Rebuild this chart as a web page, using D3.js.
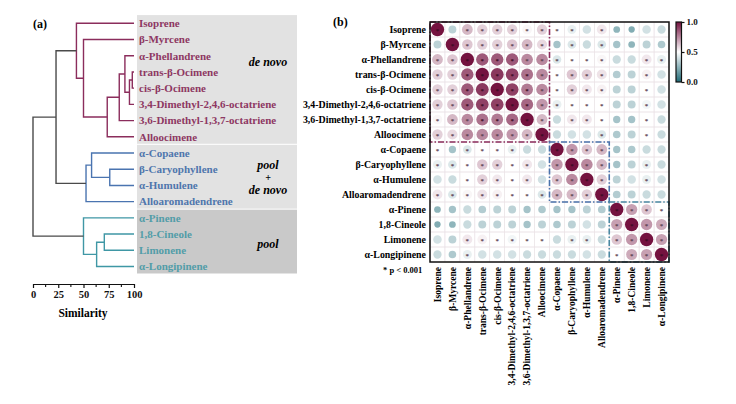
<!DOCTYPE html>
<html>
<head>
<meta charset="utf-8">
<script src="https://cdn.jsdelivr.net/npm/d3@7"></script>
<style>
  body { margin: 0; background: #fff; }
  text { font-family: "Times New Roman", "Liberation Serif", serif; font-weight: bold; }
</style>
</head>
<body>
<svg id="chart" width="736" height="404"></svg>
<script>
// compounds, same order in dendrogram and matrix
const compounds = ["Isoprene", "β-Myrcene", "α-Phellandrene", "trans-β-Ocimene", "cis-β-Ocimene",
  "3,4-Dimethyl-2,4,6-octatriene", "3,6-Dimethyl-1,3,7-octatriene", "Alloocimene",
  "α-Copaene", "β-Caryophyllene", "α-Humulene", "Alloaromadendrene",
  "α-Pinene", "1,8-Cineole", "Limonene", "α-Longipinene"];

// clusters of the dendrogram: [id, left, right, similarity]
const merges = [
  ["m1", "trans-β-Ocimene", "cis-β-Ocimene", 98.3],
  ["m2", "m1", "3,4-Dimethyl-2,4,6-octatriene", 95.5],
  ["m3", "α-Phellandrene", "m2", 91],
  ["m4", "m3", "3,6-Dimethyl-1,3,7-octatriene", 85.4],
  ["m5", "m4", "Alloocimene", 73.5],
  ["m6", "β-Myrcene", "m5", 50],
  ["m7", "Isoprene", "m6", 43],
  ["m8", "β-Caryophyllene", "α-Humulene", 76],
  ["m9", "α-Copaene", "m8", 58],
  ["m10", "m9", "Alloaromadendrene", 52.5],
  ["m11", "1,8-Cineole", "Limonene", 70.6],
  ["m12", "m11", "α-Longipinene", 63],
  ["m13", "α-Pinene", "m12", 50],
  ["m14", "m7", "m10", 22.8],
  ["m15", "m14", "m13", 0]
];

const groupOfLeaf = [0, 0, 0, 0, 0, 0, 0, 0, 1, 1, 1, 1, 2, 2, 2, 2];
const groupLabels = [["de novo"], ["pool", "+", "de novo"], ["pool"]];
const scaleTicks = [0, 25, 50, 75, 100];
const barTicks = [0, 0.5, 1];

// correlation matrix (rows = columns = compounds)
const corr = [
  [1.00, 0.35, 0.65, 0.60, 0.60, 0.60, 0.52, 0.60, 0.50, 0.45, 0.40, 0.55, 0.25, 0.22, 0.40, 0.38],
  [0.35, 1.00, 0.62, 0.60, 0.60, 0.62, 0.65, 0.58, 0.30, 0.42, 0.38, 0.42, 0.30, 0.25, 0.35, 0.32],
  [0.65, 0.62, 1.00, 0.85, 0.85, 0.85, 0.75, 0.75, 0.42, 0.50, 0.50, 0.52, 0.38, 0.38, 0.55, 0.45],
  [0.60, 0.60, 0.85, 1.00, 0.92, 0.90, 0.80, 0.75, 0.50, 0.62, 0.60, 0.56, 0.33, 0.35, 0.53, 0.40],
  [0.60, 0.60, 0.85, 0.92, 1.00, 0.90, 0.78, 0.75, 0.50, 0.60, 0.55, 0.53, 0.35, 0.35, 0.50, 0.40],
  [0.60, 0.62, 0.85, 0.90, 0.90, 1.00, 0.82, 0.72, 0.45, 0.50, 0.50, 0.50, 0.35, 0.35, 0.47, 0.40],
  [0.52, 0.65, 0.75, 0.80, 0.78, 0.82, 1.00, 0.65, 0.38, 0.55, 0.55, 0.50, 0.30, 0.30, 0.50, 0.38],
  [0.60, 0.58, 0.75, 0.75, 0.75, 0.72, 0.65, 1.00, 0.38, 0.40, 0.40, 0.42, 0.32, 0.35, 0.50, 0.38],
  [0.50, 0.30, 0.42, 0.50, 0.50, 0.45, 0.38, 0.38, 1.00, 0.72, 0.62, 0.65, 0.30, 0.32, 0.38, 0.38],
  [0.45, 0.42, 0.50, 0.62, 0.60, 0.50, 0.55, 0.40, 0.72, 1.00, 0.75, 0.65, 0.30, 0.35, 0.45, 0.38],
  [0.40, 0.38, 0.50, 0.60, 0.55, 0.50, 0.55, 0.40, 0.62, 0.75, 1.00, 0.60, 0.35, 0.40, 0.45, 0.40],
  [0.55, 0.42, 0.52, 0.56, 0.53, 0.50, 0.50, 0.42, 0.65, 0.65, 0.60, 1.00, 0.33, 0.35, 0.38, 0.38],
  [0.25, 0.30, 0.38, 0.33, 0.35, 0.35, 0.30, 0.32, 0.30, 0.30, 0.35, 0.33, 1.00, 0.70, 0.62, 0.50],
  [0.22, 0.25, 0.38, 0.35, 0.35, 0.35, 0.30, 0.35, 0.32, 0.35, 0.40, 0.35, 0.70, 1.00, 0.72, 0.68],
  [0.40, 0.35, 0.55, 0.53, 0.50, 0.47, 0.50, 0.50, 0.38, 0.45, 0.45, 0.38, 0.62, 0.72, 1.00, 0.70],
  [0.38, 0.32, 0.45, 0.40, 0.40, 0.40, 0.38, 0.38, 0.38, 0.38, 0.40, 0.38, 0.50, 0.68, 0.70, 1.00]
];
const sigMin = 0.4; // cells above this carry the p < 0.001 star

const lineColors = ["#8b2d5c", "#4a74b0", "#3f97a5"];
const labelColors = ["#8e3863", "#4f76ad", "#529da8"];
const boxColors = ["#e2e2e2", "#e2e2e2", "#c9c9c9"];
const boxLines = ["#8b2d5c", "#4a72ab", "#4a88a2"];

const svg = d3.select('#chart');

// ---------- (a) dendrogram ----------
svg.append('text').attr('x', 33).attr('y', 28).style('font-size', '12px').text('(a)');

const x = d3.scaleLinear().domain([0, 100]).range([33, 134]);
const yLeaf = d3.scalePoint().domain(compounds).range([23.3, 266.5]);

// grey group boxes + group names
const nameOffsets = [[0], [-10.2, 1.8, 15.3], [4]];
const nameSizes = [[12], [12, 10, 12], [12]];
groupLabels.forEach((lab, g) => {
    const ii = d3.range(compounds.length).filter(i => groupOfLeaf[i] === g);
    const y0 = yLeaf(compounds[ii[0]]) - 8.2;
    const y1 = yLeaf(compounds[ii[ii.length - 1]]) + 7;
    svg.append('rect')
        .attr('x', 137).attr('y', y0)
        .attr('width', 160).attr('height', y1 - y0)
        .attr('fill', boxColors[g]);
    const cy = g === 0 ? y0 + 51 : (y0 + y1) / 2 + 2;
    lab.forEach((s, k) => {
        svg.append('text')
            .attr('x', 268).attr('text-anchor', 'middle')
            .attr('y', cy + nameOffsets[g][k])
            .style('font-size', nameSizes[g][k] + 'px')
            .style('font-style', 'italic')
            .text(s);
    });
});

const nodes = new Map();
compounds.forEach((name, i) => nodes.set(name, { h: 100, y: yLeaf(name), groups: new Set([groupOfLeaf[i]]) }));
merges.forEach(([id, a, b, h]) => {
    const A = nodes.get(a), B = nodes.get(b);
    nodes.set(id, { a: A, b: B, h, y: (A.y + B.y) / 2, groups: new Set([...A.groups, ...B.groups]) });
});

merges.forEach(([id]) => {
    const n = nodes.get(id);
    const color = n.groups.size === 1 ? lineColors[[...n.groups][0]] : '#4a4a4a';
    svg.append('path')
        .attr('d', `M${x(n.a.h)},${n.a.y}H${x(n.h)}V${n.b.y}H${x(n.b.h)}`)
        .attr('fill', 'none')
        .attr('stroke', color)
        .attr('stroke-width', 1.4);
});

svg.selectAll('.leaf')
    .data(compounds)
    .enter()
    .append('text')
    .attr('x', 139)
    .attr('y', d => yLeaf(d))
    .attr('dy', '0.35em')
    .style('font-size', '11px')
    .attr('fill', (d, i) => labelColors[groupOfLeaf[i]])
    .text(d => d);

// similarity scale
const scaleAxis = svg.append('g')
    .attr('transform', 'translate(0,284)')
    .call(d3.axisBottom(x).tickValues(scaleTicks).tickSize(4).tickSizeOuter(0).tickPadding(3));
scaleAxis.selectAll('text').style('font-size', '10.5px').attr('fill', '#111');
scaleAxis.selectAll('line, path').attr('stroke', '#111').attr('stroke-width', 1.2);
scaleAxis.selectAll('.minor')
    .data(d3.range(12.5, 100, 25))
    .enter()
    .append('line')
    .attr('x1', d => x(d)).attr('x2', d => x(d))
    .attr('y1', 0).attr('y2', 3)
    .attr('stroke', '#111').attr('stroke-width', 1.1);
svg.append('text').attr('x', 83).attr('y', 317).attr('text-anchor', 'middle')
    .style('font-size', '11.5px').text('Similarity');

// ---------- (b) correlation matrix ----------
svg.append('text').attr('x', 333).attr('y', 26).style('font-size', '12px').text('(b)');

const idx = d3.range(compounds.length);
const xb = d3.scaleBand().domain(idx).range([430, 669]);
const yb = d3.scaleBand().domain(idx).range([22, 262]);
const color = d3.scaleLinear().domain([0, 0.5, 1]).range(['#1f6a77', '#ffffff', '#74123f']);
const radius = d3.scaleSqrt().domain([0, 1]).range([0, 6.7]);

const cells = [];
corr.forEach((row, i) => row.forEach((v, j) => cells.push({ i, j, v })));

svg.selectAll('.cell')
    .data(cells)
    .enter()
    .append('rect')
    .attr('x', d => xb(d.j)).attr('y', d => yb(d.i))
    .attr('width', xb.bandwidth()).attr('height', yb.bandwidth())
    .attr('fill', 'none').attr('stroke', '#ece4e8').attr('stroke-width', 0.6);

svg.selectAll('.dot')
    .data(cells)
    .enter()
    .append('circle')
    .attr('cx', d => xb(d.j) + xb.bandwidth() / 2)
    .attr('cy', d => yb(d.i) + yb.bandwidth() / 2)
    .attr('r', d => radius(d.v))
    .attr('fill', d => color(d.v));

svg.selectAll('.star')
    .data(cells.filter(d => d.v > sigMin))
    .enter()
    .append('text')
    .attr('x', d => xb(d.j) + xb.bandwidth() / 2)
    .attr('y', d => yb(d.i) + yb.bandwidth() / 2 + 3.2)
    .attr('text-anchor', 'middle')
    .style('font-size', '7px')
    .attr('fill', d => d.v > 0.75 ? '#3a0a22' : '#5a4050')
    .text('*');

// dashed cluster boxes
groupLabels.forEach((lab, g) => {
    const ii = idx.filter(i => groupOfLeaf[i] === g);
    const a = ii[0], b = ii[ii.length - 1];
    svg.append('rect')
        .attr('x', xb(a)).attr('y', yb(a))
        .attr('width', xb(b) + xb.bandwidth() - xb(a))
        .attr('height', yb(b) + yb.bandwidth() - yb(a))
        .attr('fill', 'none')
        .attr('stroke', boxLines[g])
        .attr('stroke-width', 1.6)
        .attr('stroke-dasharray', '6,2,1.5,2');
});

svg.append('rect')
    .attr('x', 430).attr('y', 22).attr('width', 239).attr('height', 240)
    .attr('fill', 'none').attr('stroke', '#111').attr('stroke-width', 1.5);

svg.selectAll('.rowlab')
    .data(compounds)
    .enter()
    .append('text')
    .attr('x', 426)
    .attr('y', (d, i) => yb(i) + yb.bandwidth() / 2)
    .attr('dy', '0.35em')
    .attr('text-anchor', 'end')
    .style('font-size', '9.9px')
    .text(d => d);

svg.selectAll('.collab')
    .data(compounds)
    .enter()
    .append('text')
    .attr('transform', (d, i) => `translate(${xb(i) + xb.bandwidth() / 2 + 3.3},267) rotate(-90)`)
    .attr('text-anchor', 'end')
    .style('font-size', '9.5px')
    .text(d => d);

svg.append('text').attr('x', 383).attr('y', 273).style('font-size', '8.5px').text('* p < 0.001');

// colour bar
const grad = svg.append('defs').append('linearGradient')
    .attr('id', 'cbar').attr('x1', 0).attr('y1', 1).attr('x2', 0).attr('y2', 0);
d3.range(0, 1.01, 0.1).forEach(t => {
    grad.append('stop').attr('offset', t).attr('stop-color', color(t));
});
const yBar = d3.scaleLinear().domain([0, 1]).range([82, 22]);
svg.append('rect')
    .attr('x', 676).attr('y', 22).attr('width', 5.5).attr('height', 60)
    .attr('fill', 'url(#cbar)').attr('stroke', '#111').attr('stroke-width', 1.2);
const barAxis = svg.append('g')
    .attr('transform', 'translate(681.5,0)')
    .call(d3.axisRight(yBar).tickValues(barTicks).tickFormat(d3.format('.1f')).tickSize(3).tickPadding(2));
barAxis.select('.domain').remove();
barAxis.selectAll('line').attr('stroke', '#111').attr('stroke-width', 1.2);
barAxis.selectAll('text').style('font-size', '9px').attr('fill', '#111');
</script>
</body>
</html>
